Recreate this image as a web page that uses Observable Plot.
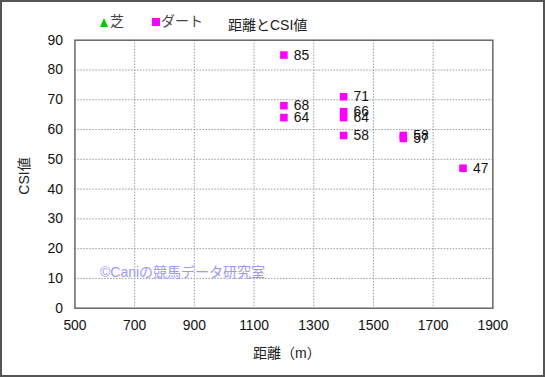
<!DOCTYPE html>
<html><head><meta charset="utf-8">
<script src="https://cdn.jsdelivr.net/npm/d3@7"></script>
<script src="https://cdn.jsdelivr.net/npm/@observablehq/plot@0.6"></script>
<style>
html,body{margin:0;padding:0;background:#fff;}
#wrap{position:relative;width:545px;height:377px;box-sizing:border-box;border:2px solid #555;overflow:hidden;font-family:"Liberation Sans","Noto Sans CJK JP",sans-serif;}
#wrap svg{position:absolute;left:-2px;top:-2px;}
.ov{position:absolute;white-space:nowrap;color:#222;}
.tri{display:inline-block;width:0;height:0;border-left:4px solid transparent;border-right:4px solid transparent;border-bottom:9px solid #00cc00;margin-right:2px;vertical-align:-1px;}
.sq{display:inline-block;width:8px;height:8px;background:#ff00ff;margin-right:1px;vertical-align:0px;}
</style></head><body>
<div id="wrap"></div>
<script>
const distance = [1200, 1200, 1200, 1400, 1400, 1400, 1400, 1600, 1600, 1800];
const csi = [85, 68, 64, 71, 66, 64, 58, 58, 57, 47];
const xTicks = [500, 700, 900, 1100, 1300, 1500, 1700, 1900];
const yTicks = [0, 10, 20, 30, 40, 50, 60, 70, 80, 90];
const title = "距離とCSI値";
const xLabel = "距離（m）";
const yLabel = "CSI値";
const legendTurf = "芝";
const legendDirt = "ダート";
const credit = "©Caniの競馬データ研究室";

const data = distance.map((d, i) => ({x: d, y: csi[i]}));
const font = '"Liberation Sans", "Noto Sans CJK JP", sans-serif';

const chart = Plot.plot({
  width: 545, height: 377,
  marginLeft: 75, marginRight: 49, marginTop: 40, marginBottom: 67,
  style: {fontFamily: font, fontSize: "14px", color: "#111", background: "transparent"},
  x: {domain: [500, 1900], label: null},
  y: {domain: [0, 90], label: null},
  marks: [
    Plot.gridX(xTicks.slice(1, -1), {stroke: "#999", strokeOpacity: 1, strokeDasharray: "1.5,1.5", strokeWidth: 1}),
    Plot.gridY(yTicks.slice(1, -1), {stroke: "#999", strokeOpacity: 1, strokeDasharray: "1.5,1.5", strokeWidth: 1}),
    Plot.frame({stroke: "#666", strokeWidth: 1.5}),
    Plot.axisX({ticks: xTicks, tickSize: 0, tickPadding: 12, fontSize: 14, label: null, tickFormat: d => String(d)}),
    Plot.axisY({ticks: yTicks, tickSize: 0, tickPadding: 12, fontSize: 14, label: null, tickFormat: d => String(d)}),
    Plot.dot(data, {x: "x", y: "y", symbol: "square", r: 4.3, fill: "#ff00ff", stroke: "none"}),
    Plot.text(data, {x: "x", y: "y", text: d => String(d.y), dx: 10, textAnchor: "start", fontSize: 14, fill: "#111"})
  ]
});
const wrap = document.getElementById("wrap");
wrap.appendChild(chart);

function ov(html, css) {
  const d = document.createElement("div");
  d.className = "ov";
  d.innerHTML = html;
  d.setAttribute("style", css);
  wrap.appendChild(d);
  return d;
}
ov(title, "left:226px;top:12px;font-size:14px;");
ov('<span class="tri"></span>' + legendTurf, "left:98px;top:8px;font-size:14px;color:#444;");
ov('<span class="sq"></span>' + legendDirt, "left:150px;top:8px;font-size:14px;color:#444;");
ov(xLabel, "left:251px;top:340px;font-size:14px;");
ov(yLabel, "left:2px;top:164px;font-size:14px;transform:rotate(-90deg);transform-origin:center;");
ov(credit, "left:98px;top:259px;font-size:14px;color:#9a9af5;");
</script>
</body></html>
